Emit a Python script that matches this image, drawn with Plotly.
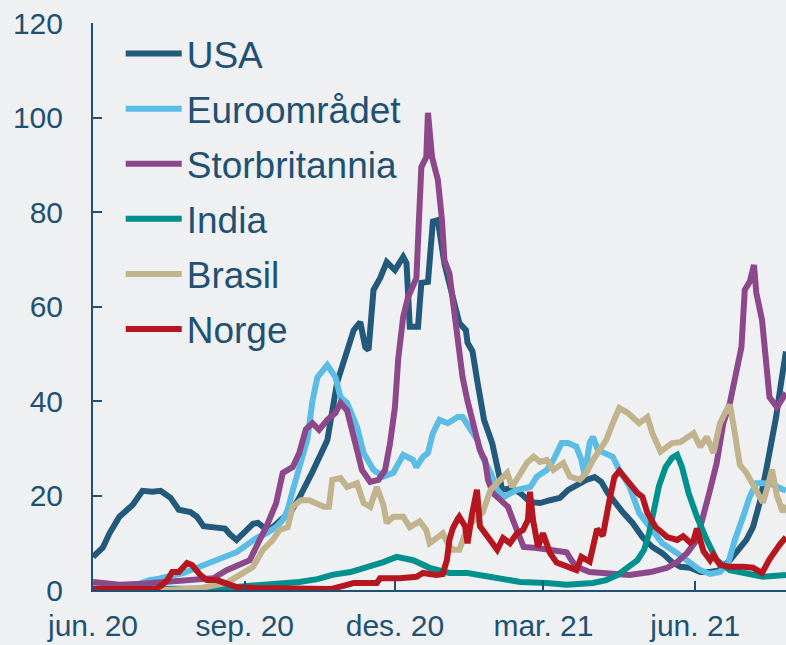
import pandas as pd
import plotly.graph_objects as go

# dager etter 1. juni 2020 og verdier per serie
START = pd.Timestamp("2020-06-01")

usa_dager = [0, 6, 10, 16, 24, 30, 36, 41, 47, 52, 59, 63, 67, 73, 80, 83, 87, 92, 97, 100, 104, 109,
             115, 119, 125, 133, 142, 148, 154, 158, 162, 165, 167, 170, 174, 178, 183, 188, 190, 192,
             197, 199, 203, 205, 206, 209, 213, 222, 226, 227, 230, 233, 237, 242, 245, 248, 254, 259,
             265, 271, 277, 283, 288, 293, 299, 304, 308, 312, 317, 321, 327, 333, 339, 345, 351, 356,
             362, 368, 374, 380, 386, 391, 396, 400, 404, 408, 411, 414, 417, 420]
usa = [7, 9, 12, 15.5, 18, 21, 20.8, 21, 19.5, 17, 16.5, 15.5, 13.5, 13.3, 13, 11.8, 10.6, 12.3, 14,
       14.2, 13.1, 13.3, 15.2, 16, 19.5, 25, 31.7, 44, 51, 55, 56.7, 51.4, 50.8, 63.5, 66, 69.4, 67.7,
       70.5, 69.2, 55.7, 55.7, 65, 65.2, 72, 78, 78.3, 69, 56.5, 55, 52.3, 50.5, 44, 36, 31, 25.4, 21.2,
       21.6, 20.5, 18.6, 18.4, 19, 19.5, 21.2, 22.2, 23.3, 23.9, 22.9, 20.5, 18, 16.5, 14.2, 11.2, 9.1,
       7.8, 5.9, 4.9, 4.7, 3.8, 3.8, 4.2, 6.3, 8.5, 10.6, 13.3, 18.4, 25.4, 30.3, 36.6, 43.8, 50.5]

euro_dager = [0, 10, 20, 28, 34, 40, 47, 55, 63, 71, 79, 87, 93, 99, 105, 111, 115, 118, 121, 125, 130,
              133, 136, 142, 147, 150, 154, 160, 164, 170, 176, 182, 188, 194, 196, 200, 203, 206, 210,
              215, 221, 224, 228, 233, 236, 241, 245, 249, 257, 261, 265, 269, 275, 279, 284, 288, 293,
              296, 298, 301, 303, 306, 309, 315, 319, 325, 331, 338, 345, 354, 362, 368, 374, 380, 385,
              389, 394, 398, 402, 410, 420]
euro = [1.2, 0.9, 0.9, 1.3, 2.1, 2.4, 3, 3.6, 4.7, 5.7, 6.8, 8, 9.5, 11, 12, 13.3, 14.8, 17, 21, 26, 32,
        40, 45, 47.6, 45, 40.8, 39.6, 34.5, 29, 25.4, 24, 24.8, 28.6, 27.5, 26, 28.2, 29, 33.2, 36, 35.3,
        36.6, 36.6, 34.5, 31.7, 28.2, 24.8, 21.2, 19.7, 21.2, 21.6, 21.8, 24, 25.4, 27.5, 31.1, 31.1,
        30.3, 27.5, 24.3, 31.1, 32.4, 29.6, 29.2, 28.2, 25.4, 22, 16.3, 13, 9.9, 7.8, 5.9, 4.2, 3.4, 3.8,
        5.7, 10.6, 15.5, 19.7, 22.6, 22.6, 21]

uk_dager = [0, 16, 30, 45, 65, 73, 81, 89, 95, 101, 105, 111, 115, 121, 125, 129, 133, 137, 142, 147,
            150, 154, 157, 160, 163, 168, 173, 177, 180, 183, 185, 188, 191, 194, 196, 197.5, 199, 202,
            203, 205.5, 209, 211.5, 213, 216, 219, 222, 224, 227, 231.5, 234.5, 237.6, 239.4, 242.4,
            246.7, 251.5, 254.5, 257, 261, 269, 277, 287, 290, 293, 301, 309, 319, 325, 338, 348, 354,
            360, 366, 370, 374, 378, 382, 386, 390, 393, 395, 398, 400.6, 402, 405.5, 408, 410, 414.5, 420]
uk = [1.7, 1.1, 1.3, 1.7, 2.1, 2.5, 4.2, 5.3, 6.3, 10.6, 13.3, 18.4, 24.8, 26, 29, 34, 35.3, 33.9, 36,
      37.5, 39.6, 38, 33.2, 29.6, 25.4, 22.9, 23.3, 25.4, 31, 38.7, 49, 57.8, 62, 64, 66, 78, 89.5, 91.6,
      101, 91.6, 86.8, 78.3, 69.8, 67, 58, 51.5, 45, 40, 33.9, 29.6, 27.5, 23.3, 20.5, 19, 17.6, 14.8,
      12.7, 9.1, 8.9, 8.5, 8, 6.3, 4.9, 3.8, 3.6, 3.2, 3.2, 3.8, 4.7, 5.9, 7.8, 10.6, 15.5, 21.2, 26.9,
      35.3, 39.6, 47.2, 51.4, 63.5, 65.2, 68.8, 62.9, 57.1, 48, 40.8, 38.7, 41.7]

india_dager = [0, 40, 65, 85, 105, 125, 136, 145, 156, 166, 176, 184, 194, 204, 210, 216, 227, 235, 245,
               259, 275, 287, 303, 311, 318, 324, 330, 334, 337, 340, 343, 347, 351, 354, 357, 361, 366,
               372, 378, 386, 394, 406, 420]
india = [0.2, 0.2, 0.3, 0.6, 1.1, 1.7, 2.3, 3.2, 3.8, 4.7, 5.9, 7, 6.3, 4.7, 4.2, 3.6, 3.6, 3.2, 2.5,
         1.7, 1.5, 1.1, 1.5, 2.1, 3.2, 4.7, 6.3, 8.5, 12, 17, 22, 26, 28, 28.6, 26, 20.5, 15.5, 10.6, 6.3,
         4.2, 3.6, 2.8, 3.2]

brasil_dager = [0, 45, 65, 81, 89, 97, 103, 109, 113, 118, 121, 126, 131, 136, 140, 143, 145, 150, 154,
                160, 164, 168, 172, 176, 178, 182, 188, 192, 198, 202, 204, 209, 212, 215, 218, 222, 227,
                233, 236, 241, 247, 251, 254, 259, 263, 267, 271, 275, 279, 285, 289, 295, 299, 303, 307,
                311, 315, 319, 324, 327, 331, 336, 339, 344, 348, 351, 356, 360, 364, 368, 372, 376, 380,
                384, 386, 388, 390, 392, 396, 400, 404, 406, 409, 411.5, 414.5, 418, 420]
brasil = [0, 0, 0.4, 1.5, 3.2, 4.9, 8.5, 10.6, 12.7, 13.3, 17.6, 19, 19, 18.4, 17.6, 17.6, 23.3, 23.7,
          21.8, 22.6, 18.4, 17.6, 21.8, 18, 14.2, 15.5, 15.5, 13.3, 14.5, 12.7, 9.9, 11.2, 12, 9.9, 8.5,
          8.5, 13.3, 15.5, 16.3, 21.2, 23.3, 24.8, 21.8, 24.8, 26.9, 28.2, 27.1, 27.5, 25.4, 26.9, 24,
          23.3, 24.8, 27.5, 29.6, 31.7, 35.3, 38.5, 37.5, 36.6, 35.3, 36.6, 33.2, 29.3, 30.3, 31.1, 31.3,
          32.4, 33.2, 30.3, 32.4, 29, 35.3, 38.1, 39.2, 35.3, 30.3, 26.5, 24.8, 22, 19.5, 18.5, 22, 25.5,
          20, 16.5, 18]

norge_dager = [0, 38, 42, 45, 48, 52, 57, 60, 65, 69, 75, 81, 87, 99, 120, 144, 154, 158, 172, 174, 186,
               196, 200, 208, 212, 214.5, 216, 218, 221, 222, 225.5, 227, 229.7, 232.7, 234.5, 239,
               242.4, 245, 248.5, 252.7, 257, 260.6, 263.6, 264.8, 266.7, 269.7, 272.7, 277, 281, 289,
               293, 296, 301, 305.5, 309, 313, 316, 319, 324, 330, 333, 336, 341, 348, 354, 357.6, 362,
               364, 366, 370, 374, 376, 380, 386, 394, 400, 405.5, 410, 416, 420]
norge = [0.2, 0.2, 1.1, 2.1, 3.8, 3.8, 5.7, 5.3, 3.2, 2.1, 2.1, 1.5, 0.6, 0.4, 0.4, 0.2, 1.1, 1.5, 1.5,
         2.5, 2.5, 2.8, 3.6, 3.2, 3.4, 6.3, 10.6, 13, 15, 15.5, 13.5, 9.9, 16, 21.2, 13.5, 11.2, 9.9, 8.5,
         11, 9.9, 12, 12.7, 14.8, 20.8, 14.8, 9.1, 12, 7.8, 5.8, 4.9, 4.2, 7, 6, 12.9, 11.5, 19, 23.9,
         25.2, 23, 20.5, 19.7, 16.3, 13.3, 11.2, 10.6, 11.4, 10, 10.5, 13, 8.2, 6.3, 7.4, 5.3, 4.9, 4.9,
         4.7, 3.6, 6.5, 9.5, 11.2]

tick_datoer = ["2020-06-01", "2020-09-01", "2020-12-01", "2021-03-01", "2021-06-01"]
tick_tekst = ["jun. 20", "sep. 20", "des. 20", "mar. 21", "jun. 21"]

serier = [
    ("USA", usa_dager, usa, "#235a7b"),
    ("Euroområdet", euro_dager, euro, "#5bbce6"),
    ("Storbritannia", uk_dager, uk, "#8c488b"),
    ("India", india_dager, india, "#00918f"),
    ("Brasil", brasil_dager, brasil, "#c1b48d"),
    ("Norge", norge_dager, norge, "#b5161f"),
]

TEKST = "#1f5172"
BG = "#eef0f2"


def til_dato(dager):
    return [START + pd.Timedelta(days=d) for d in dager]


fig = go.Figure()
for navn, dager, verdier, farge in serier:
    fig.add_trace(go.Scatter(x=til_dato(dager), y=verdier, mode="lines", name=navn,
                             legendgroup=navn, line=dict(color=farge, width=6)))

fig.update_layout(
    width=786, height=645,
    margin=dict(l=93, r=0, t=23, b=55),
    paper_bgcolor=BG, plot_bgcolor=BG,
    font=dict(family="Liberation Sans, Arial, sans-serif", color=TEKST, size=30),
    showlegend=True, hovermode=False,
    legend=dict(x=0.04, y=1.0, xanchor="left", yanchor="top", bgcolor="rgba(0,0,0,0)",
                font=dict(size=37, color=TEKST), itemwidth=56, tracegroupgap=4),
)
fig.update_xaxes(
    range=[START, START + pd.Timedelta(days=420)],
    tickvals=pd.to_datetime(tick_datoer), ticktext=tick_tekst,
    showgrid=False, zeroline=False, showline=True, linecolor=TEKST, linewidth=2,
    ticks="inside", ticklen=9, tickwidth=2, tickcolor=TEKST,
    tickfont=dict(size=30, color=TEKST), ticklabelstandoff=8,
)
fig.update_yaxes(
    range=[0, 120], tickvals=[0, 20, 40, 60, 80, 100, 120],
    showgrid=False, zeroline=False, showline=True, linecolor=TEKST, linewidth=2,
    ticks="inside", ticklen=9, tickwidth=2, tickcolor=TEKST,
    tickfont=dict(size=30, color=TEKST), ticklabelstandoff=22,
)

# siden skal ikke ha marg rundt figuren
fig.write_html("out.html", config={"displayModeBar": False},
               post_script="document.body.style.margin='0';")
